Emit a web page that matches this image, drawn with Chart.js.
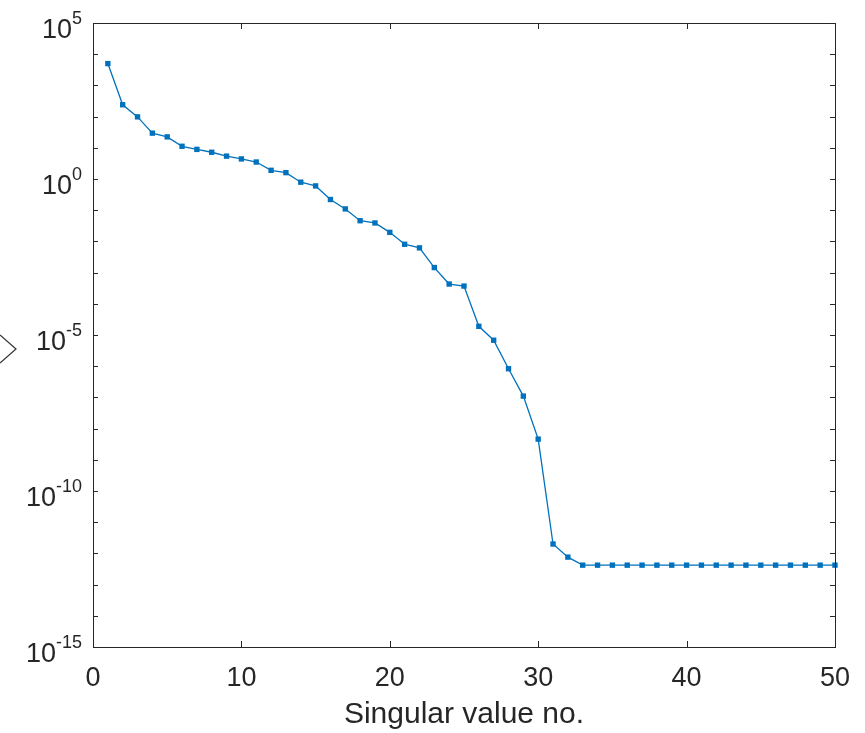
<!DOCTYPE html>
<html>
<head>
<meta charset="utf-8">
<script src="https://cdn.jsdelivr.net/npm/chart.js@4"></script>
<style>
  html, body { margin: 0; padding: 0; background: #fff; }
  #wrap { width: 865px; height: 733px; position: relative; }
</style>
</head>
<body>
<div id="wrap"><canvas id="svChart"></canvas></div>
<script>
// singular value index and magnitude
const svIndex = [
  1, 2, 3, 4, 5, 6, 7, 8, 9, 10,
  11, 12, 13, 14, 15, 16, 17, 18, 19, 20,
  21, 22, 23, 24, 25, 26, 27, 28, 29, 30,
  31, 32, 33, 34, 35, 36, 37, 38, 39, 40,
  41, 42, 43, 44, 45, 46, 47, 48, 49, 50
];
const svValues = [
  5.0e3, 240, 98, 29.5, 22.4, 11.2, 8.9, 7.2, 5.4, 4.4,
  3.5, 1.9, 1.6, 0.79, 0.60, 0.22, 0.11, 0.046, 0.039, 0.0195,
  0.0081, 0.0062, 0.00145, 4.3e-4, 3.7e-4, 1.9e-5, 6.8e-6, 8.3e-7, 1.1e-7, 4.6e-9,
  2.0e-12, 7.6e-13, 4.2e-13, 4.2e-13, 4.2e-13, 4.2e-13, 4.2e-13, 4.2e-13, 4.2e-13, 4.2e-13,
  4.2e-13, 4.2e-13, 4.2e-13, 4.2e-13, 4.2e-13, 4.2e-13, 4.2e-13, 4.2e-13, 4.2e-13, 4.2e-13
];
const xTicks = [0, 10, 20, 30, 40, 50];
const yLabelExps = [-15, -10, -5, 0, 5];
const yMinorExps = [-14, -13, -12, -11, -9, -8, -7, -6, -4, -3, -2, -1, 1, 2, 3, 4];

const axisColor = "#262626";
const textColor = "#262626";
const fontFamily = "'Liberation Sans', Arial, Helvetica, sans-serif";

// box, inward ticks and 10^n labels, MATLAB style
const axesDecor = {
  id: "axesDecor",
  afterDraw(chart) {
    const { ctx, chartArea: a, scales } = chart;
    const xs = scales.x, ys = scales.y;
    ctx.save();
    ctx.strokeStyle = axisColor;
    ctx.lineWidth = 1;
    ctx.strokeRect(Math.round(a.left) + 0.5, Math.round(a.top) + 0.5,
      Math.round(a.right - a.left), Math.round(a.bottom - a.top));

    ctx.beginPath();
    xTicks.forEach(v => {
      const px = Math.round(xs.getPixelForValue(v)) + 0.5;
      ctx.moveTo(px, a.bottom); ctx.lineTo(px, a.bottom - 6);
      ctx.moveTo(px, a.top); ctx.lineTo(px, a.top + 6);
    });
    yLabelExps.concat(yMinorExps).forEach(e => {
      const py = Math.round(ys.getPixelForValue(Math.pow(10, e))) + 0.5;
      ctx.moveTo(a.left, py); ctx.lineTo(a.left + 5, py);
      ctx.moveTo(a.right, py); ctx.lineTo(a.right - 5, py);
    });
    ctx.stroke();

    ctx.fillStyle = textColor;
    ctx.textAlign = "right";
    ctx.textBaseline = "alphabetic";
    const rightX = a.left - 11;
    yLabelExps.forEach(e => {
      const py = ys.getPixelForValue(Math.pow(10, e));
      const exp = String(e);
      ctx.font = "18px " + fontFamily;
      const w = ctx.measureText(exp).width;
      ctx.fillText(exp, rightX, py + 1);
      ctx.font = "27px " + fontFamily;
      ctx.fillText("10", rightX - w, py + 15);
    });

    // stray chevron at the left edge of the picture
    ctx.beginPath();
    ctx.lineWidth = 1.2;
    ctx.strokeStyle = "#333";
    ctx.moveTo(0, 335); ctx.lineTo(16, 349); ctx.lineTo(0, 363);
    ctx.stroke();
    ctx.restore();
  }
};

new Chart(document.getElementById("svChart"), {
  type: "line",
  data: {
    datasets: [{
      data: svIndex.map((x, i) => ({ x, y: svValues[i] })),
      borderColor: "#0072BD",
      backgroundColor: "#0072BD",
      borderWidth: 1.3,
      pointStyle: "rect",
      pointRadius: 3.8,
      pointBorderWidth: 0,
      pointHoverRadius: 3.8,
      tension: 0,
      clip: 8
    }]
  },
  options: {
    responsive: true,
    maintainAspectRatio: false,
    animation: false,
    events: [],
    layout: { padding: { left: 0, top: 23, right: 27, bottom: 0 } },
    plugins: { legend: { display: false }, tooltip: { enabled: false } },
    scales: {
      x: {
        type: "linear",
        min: 0, max: 50,
        afterBuildTicks: s => { s.ticks = xTicks.map(v => ({ value: v })); },
        afterFit: s => { s.height = 86; },
        grid: { display: false, drawTicks: false },
        border: { display: false },
        ticks: { color: textColor, font: { family: fontFamily, size: 27 }, padding: 15, maxRotation: 0 },
        title: {
          display: true,
          text: "Singular value no.",
          color: textColor,
          font: { family: fontFamily, size: 30 },
          padding: { top: 0, bottom: 0 }
        }
      },
      y: {
        type: "logarithmic",
        min: 1e-15, max: 1e5,
        afterFit: s => { s.width = 93; },
        grid: { display: false, drawTicks: false },
        border: { display: false },
        ticks: { display: false }
      }
    }
  },
  plugins: [axesDecor]
});
</script>
</body>
</html>
